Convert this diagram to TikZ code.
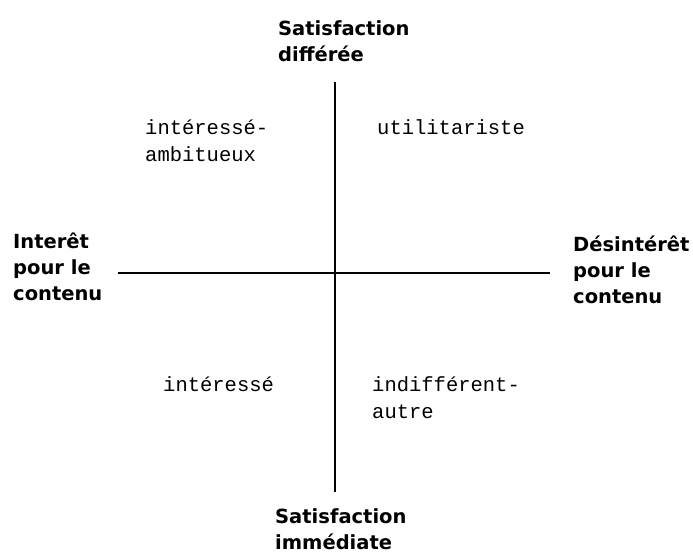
\documentclass[tikz,border=0pt]{standalone}
\usepackage{fontspec}
\newfontfamily\axisfont{DejaVu Sans}
\newfontfamily\quadfont{Liberation Mono}

\begin{document}
\begin{tikzpicture}[x=1pt,y={(0pt,-1pt)},
		axislabel/.style={inner sep=0pt,anchor=base west,align=left,
			font=\axisfont\bfseries\fontsize{19.5}{26}\selectfont},
		quadlabel/.style={inner sep=0pt,anchor=base west,align=left,
			font=\quadfont\fontsize{20.5}{27}\selectfont},
		axisline/.style={line width=1.2pt}]
		\useasboundingbox (0,0) rectangle (693,554);
		% axes
		\coordinate (T) at (335,82);
		\coordinate (B) at (335,492);
		\coordinate (L) at (118,273);
		\coordinate (R) at (550,273);
		\draw[axisline] (T) -- (B) (L) -- (R);
		% axis labels (placed at the baseline of their last line)
		\node[axislabel] (top) at (278,61) {Satisfaction\\diff\'er\'ee};
		\node[axislabel] (bottom) at (275,549) {Satisfaction\\imm\'ediate};
		\node[axislabel] (left) at (13,300) {Inter\^et\\pour le\\contenu};
		\node[axislabel] (right) at (573,303) {D\'esint\'er\^et\\pour le\\contenu};
		% quadrants
		\node[quadlabel] (q1) at (145,161) {int\'eress\'e-\\ambitueux};
		\node[quadlabel] (q2) at (377,134) {utilitariste};
		\node[quadlabel] (q3) at (163,391) {int\'eress\'e};
		\node[quadlabel] (q4) at (372,418) {indiff\'erent-\\autre};
	\end{tikzpicture}
\end{document}
